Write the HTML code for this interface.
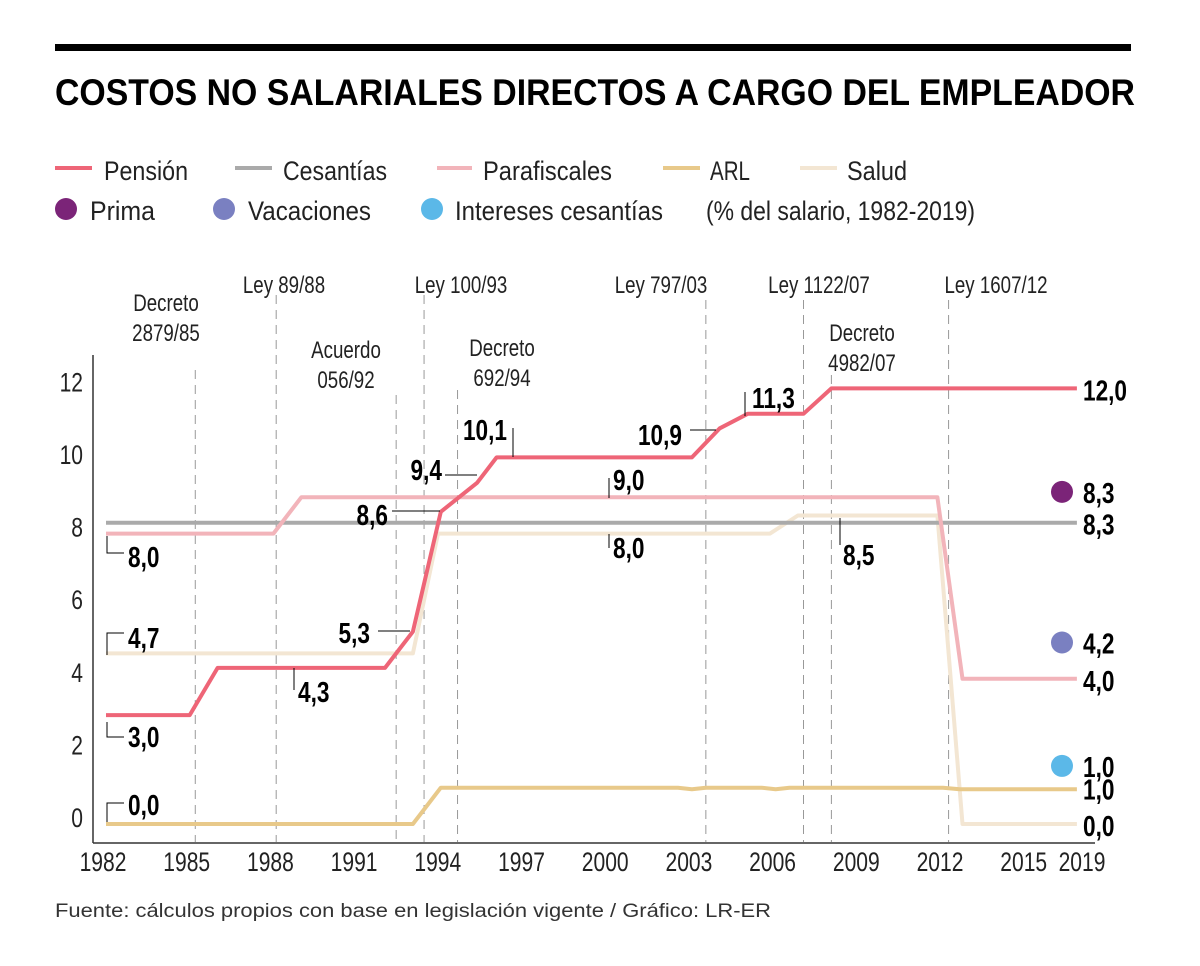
<!DOCTYPE html>
<html><head><meta charset="utf-8"><style>
html,body{margin:0;padding:0;background:#fff;}
svg{display:block;font-family:"Liberation Sans",sans-serif;}
.lbl{font-size:24px;fill:#222;}
.val{font-size:29px;font-weight:bold;fill:#000;}
.leg{font-size:27px;fill:#222;}
</style></head><body>
<svg id="chart" width="1200" height="966" viewBox="0 0 1200 966">
<rect x="55" y="44" width="1076" height="7" fill="#000"/>
<text x="55" y="105" font-size="37" font-weight="bold" textLength="1080" lengthAdjust="spacingAndGlyphs">COSTOS NO SALARIALES DIRECTOS A CARGO DEL EMPLEADOR</text>

<g>
<g><line x1="55" y1="168" x2="92" y2="168" stroke="#ee6577" stroke-width="4"/><text class="leg" x="104" y="180" textLength="84" lengthAdjust="spacingAndGlyphs">Pensión</text></g>
<g><line x1="235" y1="168" x2="272" y2="168" stroke="#aaaaaa" stroke-width="4"/><text class="leg" x="283" y="180" textLength="104" lengthAdjust="spacingAndGlyphs">Cesantías</text></g>
<g><line x1="437" y1="168" x2="472" y2="168" stroke="#f2b4ba" stroke-width="4"/><text class="leg" x="483" y="180" textLength="129" lengthAdjust="spacingAndGlyphs">Parafiscales</text></g>
<g><line x1="663" y1="168" x2="700" y2="168" stroke="#e8c98a" stroke-width="4"/><text class="leg" x="710" y="180" textLength="40" lengthAdjust="spacingAndGlyphs">ARL</text></g>
<g><line x1="800" y1="168" x2="837" y2="168" stroke="#f3e6d3" stroke-width="4"/><text class="leg" x="847" y="180" textLength="60" lengthAdjust="spacingAndGlyphs">Salud</text></g>
<g><circle cx="66" cy="209" r="11" fill="#7b2478"/><text class="leg" x="90" y="220" textLength="65" lengthAdjust="spacingAndGlyphs">Prima</text></g>
<g><circle cx="224" cy="209" r="11" fill="#7a80c1"/><text class="leg" x="248" y="220" textLength="123" lengthAdjust="spacingAndGlyphs">Vacaciones</text></g>
<g><circle cx="432" cy="209" r="11" fill="#5bb8e8"/><text class="leg" x="455" y="220" textLength="208" lengthAdjust="spacingAndGlyphs">Intereses cesantías</text></g>
<text class="leg" x="706" y="220" textLength="269" lengthAdjust="spacingAndGlyphs">(% del salario, 1982-2019)</text>
</g>

<g id="events"></g>
<g id="axes"></g>
<g id="series"></g>
<g id="labels"></g>

<text x="55" y="917" font-size="19" fill="#333" textLength="716" lengthAdjust="spacingAndGlyphs">Fuente: cálculos propios con base en legislación vigente / Gráfico: LR-ER</text>
</svg>
<script>
const yTicks = [0, 2, 4, 6, 8, 10, 12];
const xTickLabels = ["1982","1985","1988","1991","1994","1997","2000","2003","2006","2009","2012","2015","2019"];
const pensionYears = [1982, 1985, 1986, 1992, 1993, 1994, 1995.3, 1996, 2003, 2004, 2005, 2007, 2008, 2016.8];
const pensionValues = [3.0, 3.0, 4.3, 4.3, 5.3, 8.6, 9.4, 10.1, 10.1, 10.9, 11.3, 11.3, 12.0, 12.0];
const cesantiasYears = [1982, 2016.8];
const cesantiasValues = [8.3, 8.3];
const parafiscalesYears = [1982, 1988, 1989, 2011.8, 2012.7, 2016.8];
const parafiscalesValues = [8.0, 8.0, 9.0, 9.0, 4.0, 4.0];
const arlYears = [1982, 1993, 1994, 2002.5, 2003, 2003.5, 2005.5, 2006, 2006.5, 2012, 2012.6, 2016.8];
const arlValues = [0, 0, 1.0, 1.0, 0.96, 1.0, 1.0, 0.96, 1.0, 1.0, 0.96, 0.96];
const saludYears = [1982, 1993, 1993.9, 2005.8, 2006.8, 2011.8, 2012.7, 2016.8];
const saludValues = [4.7, 4.7, 8.0, 8.0, 8.5, 8.5, 0, 0];
const dotNames = ["prima", "vacaciones", "intereses-cesantias"];
const dotValues = [8.3, 4.2, 1.0];
const dotPlotValues = [9.15, 5.0, 1.6];
const rightLabelValues = [12.0, 8.3, 4.0, 1.0, 0.0];
const rightLabelText = ["12,0", "8,3", "4,0", "1,0", "0,0"];
const eventYears = [1985.2, 1988.1, 1992.4, 1993.4, 1994.6, 2003.5, 2007, 2008, 2012.2];

const NS = "http://www.w3.org/2000/svg";
const SX = 0.78;
function X(year){ return 106 + (year - 1982) * 27.9; }
function Y(v){ return 824 - v * 36.3; }
function mk(tag, attrs, parent){ const e = document.createElementNS(NS, tag); for (const k in attrs) e.setAttribute(k, attrs[k]); parent.appendChild(e); return e; }
function txt(str, x, y, anchor, attrs, parent){
  const e = mk('text', Object.assign({x: 0, y: 0, 'text-anchor': anchor, transform: 'translate(' + x + ',' + y + ') scale(' + SX + ',1)'}, attrs), parent);
  e.textContent = str;
  return e;
}

const axes = document.getElementById('axes');
const ev = document.getElementById('events');
const series = document.getElementById('series');
const labels = document.getElementById('labels');

const eventTops = [370, 295, 395, 295, 390, 300, 300, 375, 300];
eventYears.forEach((yr, i) => {
  const l = mk('line', {x1: X(yr), x2: X(yr), y1: eventTops[i], y2: 842, stroke: '#999', 'stroke-width': 1, 'stroke-dasharray': '9,6'}, ev);
  
  
});
const evText = [["Decreto",166,311],["2879/85",166,341],["Ley 89/88",284,293],["Acuerdo",346,358],["056/92",346,388],["Ley 100/93",461,293],["Decreto",502,356],["692/94",502,386],["Ley 797/03",661,293],["Ley 1122/07",819,293],["Decreto",862,341],["4982/07",862,371],["Ley 1607/12",996,293]];
evText.forEach(t => {
  const e = txt(t[0], t[1], t[2], 'middle', {class: 'lbl'}, ev);
  
  
});

const ya = mk('line', {x1: 93, x2: 93, y1: 355, y2: 843, stroke: '#333', 'stroke-width': 1.5}, axes);


const xa = mk('line', {x1: 93, x2: 1095, y1: 843, y2: 843, stroke: '#333', 'stroke-width': 1.5}, axes);


yTicks.forEach(v => {
  const t = txt(String(v), 83, Y(v) + 3, 'end', {'font-size': 27, fill: '#222'}, axes);
  
  
});
xTickLabels.forEach((lab, i) => {
  const yr = +lab;
  const x = i === xTickLabels.length - 1 ? 1082 : X(yr) - 3;
  const t = txt(lab, x, 871, 'middle', {'font-size': 27, fill: '#222'}, axes);
  
  
});

function line(years, vals, color, name){
  const pts = years.map((y, i) => X(y).toFixed(1) + ',' + Y(vals[i]).toFixed(1)).join(' ');
  const p = mk('polyline', {points: pts, fill: 'none', stroke: color, 'stroke-width': 4, 'stroke-linejoin': 'round'}, series);
  
  
}
line(saludYears, saludValues, '#f3e6d3', 'salud-line');
line(arlYears, arlValues, '#e8c98a', 'arl-line');
line(cesantiasYears, cesantiasValues, '#aaaaaa', 'cesantias-line');
line(parafiscalesYears, parafiscalesValues, '#f2b4ba', 'parafiscales-line');
line(pensionYears, pensionValues, '#ee6577', 'pension-line');

const dotColors = ['#7b2478', '#7a80c1', '#5bb8e8'];
dotValues.forEach((v, i) => {
  const c = mk('circle', {cx: 1062, cy: Y(dotPlotValues[i]), r: 11, fill: dotColors[i]}, series);
  
  
  const t = txt(v.toFixed(1).replace('.', ','), 1083, Y(dotPlotValues[i]) + 11, 'start', {class: 'val'}, labels);
  
  
});
rightLabelValues.forEach((v, i) => {
  const t = txt(rightLabelText[i], 1083, Y(v) + 12, 'start', {class: 'val'}, labels);
  
  
});

const ann = [
 ["3,0",128,747,"start","107,722 107,737 124,737"],
 ["4,7",128,648,"start","107,655 107,633 124,633"],
 ["8,0",128,567,"start","107,536 107,553 124,553"],
 ["0,0",128,815,"start","107,822 107,803 124,803"],
 ["4,3",298,702,"start","294,668 294,690"],
 ["5,3",370,643,"end","378,631 410,631"],
 ["8,6",388,525,"end","392,511 440,511"],
 ["9,4",442,480,"end","445,475 477,475"],
 ["10,1",507,440,"end","513,428 513,457"],
 ["9,0",613,490,"start","609,478 609,498"],
 ["8,0",613,558,"start","609,534 609,548"],
 ["10,9",682,445,"end","690,430 716,430"],
 ["11,3",752,408,"start","745,392 745,416"],
 ["8,5",843,565,"start","840,518 840,545"]
];
ann.forEach(a => {
  const p = mk('polyline', {points: a[4], fill: 'none', stroke: '#000', 'stroke-width': 1}, labels);
  
  
  const t = txt(a[0], a[1], a[2], a[3], {class: 'val'}, labels);
  
  
});
</script>
</body></html>
